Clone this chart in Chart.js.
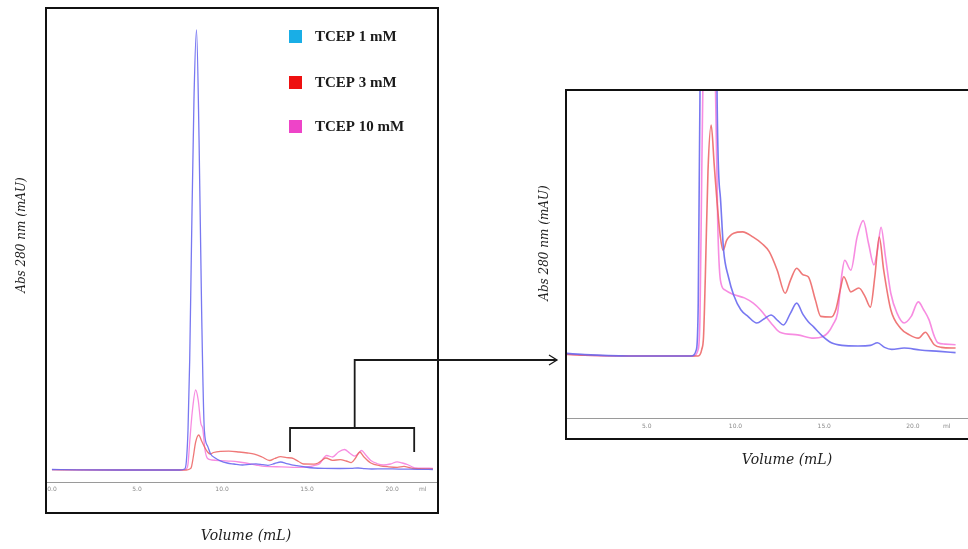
<!DOCTYPE html>
<html>
<head>
<meta charset="utf-8">
<script src="https://cdn.jsdelivr.net/npm/chart.js@4.4.1/dist/chart.umd.min.js"></script>
<style>
  html, body { margin: 0; padding: 0; background: #fff; }
  body { width: 968px; height: 549px; position: relative; overflow: hidden; }
  .panel { position: absolute; top: 0; }
  #overview { left: 0; }
  #zoomed { left: 530px; }
</style>
</head>
<body>
<div class="panel" id="overview"><canvas id="overviewChart" width="560" height="549"></canvas></div>
<div class="panel" id="zoomed"><canvas id="zoomChart" width="438" height="549"></canvas></div>
<script>
// ----- Data (volume in mL, absorbance in arbitrary mAU) -----
const seriesLabels = ['TCEP 1 mM', 'TCEP 3 mM', 'TCEP 10 mM'];

const vol1mM = [0, 1.5, 4, 7.5, 7.8, 7.9, 8.0, 8.1, 8.2, 8.35, 8.5, 8.65, 8.8, 8.96, 9.15, 9.33, 9.6, 9.9, 10.3, 10.7,
  11.2, 11.6, 12.0, 12.4, 12.7, 13.1, 13.45, 13.8, 14.1, 14.4, 14.9, 15.4, 16.0, 16.9, 17.6, 18.0, 18.4, 18.8, 19.5, 20.4, 21.5, 22.4];
const abs1mM = [0.5, 0.2, 0, 0, 1, 8, 40, 110, 220, 370, 440, 330, 160, 40, 24, 16, 12, 9.2, 7, 6,
  5, 5.6, 6.2, 5.3, 4.7, 6.5, 8, 6.3, 5.2, 4.4, 3, 2, 1.6, 1.5, 1.6, 2, 1.3, 1, 1.2, 0.9, 0.7, 0.5];

const vol3mM = [0, 1.5, 4, 7.9, 8.1, 8.2, 8.3, 8.45, 8.63, 8.8, 8.97, 9.15, 9.3, 9.5, 9.9, 10.4, 11.0, 11.5, 11.9, 12.35,
  12.8, 13.1, 13.45, 13.8, 14.1, 14.5, 14.8, 15.4, 15.65, 15.9, 16.1, 16.5, 16.95, 17.3, 17.6, 17.85, 18.1, 18.35, 18.75, 19.3,
  19.8, 20.3, 20.7, 21.0, 21.2, 21.6, 22.4];
const abs3mM = [0.3, 0.1, 0, 0, 1, 3, 12, 28, 35, 29, 23, 18, 16, 17.5, 18.6, 18.8, 18, 17, 15.8, 13,
  9.5, 11.5, 13.3, 12.3, 12, 8.5, 6, 5.9, 7, 10, 12, 9.7, 10.3, 9, 7.4, 12, 18, 13, 7, 4.2,
  3.2, 2.7, 3.6, 2.5, 1.7, 1.3, 1.2];

const vol10mM = [0, 1.5, 4, 7.6, 7.9, 8.0, 8.1, 8.25, 8.45, 8.6, 8.75, 8.87, 9.0, 9.15, 9.4, 9.9, 10.5, 11.0, 11.4, 12.0,
  12.5, 13.5, 14.4, 14.9, 15.2, 15.5, 15.75, 16.0, 16.15, 16.5, 16.85, 17.2, 17.5, 17.8, 18.0, 18.2, 18.45, 18.75, 19.1, 19.5,
  19.9, 20.3, 20.6, 20.9, 21.2, 21.4, 21.8, 22.4];
const abs10mM = [0.4, 0.1, 0, 0, 1, 6, 28, 58, 80, 70, 47, 41, 20, 11.5, 10, 9.3, 8.8, 8, 7, 5,
  3.6, 3.2, 2.7, 2.9, 3.5, 4.8, 6.5, 12.5, 14.5, 13, 18, 20.5, 17, 13.8, 16, 19.5, 15, 9.5, 6.5, 5,
  6, 8.2, 7, 5.5, 3, 2, 1.8, 1.7];

// x-axis tick labels as printed by the instrument software
const overviewTicks = [0, 5, 10, 15, 20, 21.8];
const overviewTickLabels = ['0.0', '5.0', '10.0', '15.0', '20.0', 'ml'];
const zoomTicks = [5, 10, 15, 20, 21.9];
const zoomTickLabels = ['5.0', '10.0', '15.0', '20.0', 'ml'];

// volume window that is blown up in the right panel
const zoomWindow = [14.0, 21.3];

// ----- Styles -----
const lineColors   = ['rgba(105,105,240,0.9)', 'rgba(236,96,96,0.85)', 'rgba(246,128,222,0.9)'];
const legendColors = ['#19aee6', '#ee1010', '#ee44c8'];
const titleFont = "'DejaVu Serif', serif";

const toPoints = (vols, abs) => vols.map((v, i) => ({ x: v, y: abs[i] }));

function makeDatasets(width) {
  const sets = [[vol1mM, abs1mM], [vol3mM, abs3mM], [vol10mM, abs10mM]];
  return sets.map(([v, a], i) => ({
    label: seriesLabels[i],
    data: toPoints(v, a),
    borderColor: lineColors[i],
    borderWidth: width,
    pointRadius: 0,
    fill: false,
    cubicInterpolationMode: 'monotone',
  }));
}

function xScale(min, max, ticks, labels, pad, height) {
  return {
    type: 'linear',
    min, max,
    grid: { display: false, drawTicks: false },
    border: { display: true, color: '#9a9a9a', width: 1 },
    afterBuildTicks: scale => { scale.ticks = ticks.map(v => ({ value: v })); },
    afterFit: scale => { scale.height = height; },
    ticks: {
      autoSkip: false, maxRotation: 0, padding: pad,
      color: '#8a8a8a',
      font: { family: 'DejaVu Sans', size: 6 },
      callback: (val, i) => labels[i],
    },
  };
}

function drawRotated(ctx, text, x, y, font) {
  ctx.save();
  ctx.translate(x, y);
  ctx.rotate(-Math.PI / 2);
  ctx.font = font;
  ctx.textAlign = 'center';
  ctx.textBaseline = 'middle';
  ctx.fillText(text, 0, 0);
  ctx.restore();
}

// ----- Left panel decorations: frame, titles, legend, bracket + arrow -----
const overviewDecor = {
  id: 'overviewDecor',
  afterDraw(chart) {
    const { ctx, chartArea: a, scales: { x, y } } = chart;
    ctx.save();
    ctx.strokeStyle = '#111';
    ctx.lineWidth = 2;
    ctx.strokeRect(a.left, a.top, a.right - a.left, x.bottom - a.top);

    ctx.fillStyle = '#222';
    drawRotated(ctx, 'Abs 280 nm (mAU)', a.left - 24, a.top + 227, `italic 12px ${titleFont}`);
    ctx.font = `italic 14px ${titleFont}`;
    ctx.textAlign = 'center';
    ctx.textBaseline = 'middle';
    ctx.fillText('Volume (mL)', (a.left + a.right) / 2 + 4, x.bottom + 23);

    // legend
    ctx.font = "bold 15px 'Liberation Serif', serif";
    ctx.textAlign = 'left';
    const rows = [36, 82, 126];
    seriesLabels.forEach((lab, i) => {
      ctx.fillStyle = legendColors[i];
      ctx.fillRect(a.left + 243, rows[i] - 6, 13, 13);
      ctx.fillStyle = '#1a1a1a';
      ctx.fillText(lab, a.left + 269, rows[i] + 1);
    });

    // bracket over the zoomed window and connector arrow
    const base = y.getPixelForValue(0);
    const x0 = x.getPixelForValue(zoomWindow[0]);
    const x1 = x.getPixelForValue(zoomWindow[1]);
    const xm = x.getPixelForValue(17.8);
    const yb = base - 42, yt = base - 18, ya = base - 110;
    ctx.strokeStyle = '#1a1a1a';
    ctx.lineWidth = 1.8;
    ctx.beginPath();
    ctx.moveTo(x0, yt); ctx.lineTo(x0, yb); ctx.lineTo(x1, yb); ctx.lineTo(x1, yt);
    ctx.moveTo(xm, yb); ctx.lineTo(xm, ya); ctx.lineTo(chart.width - 3, ya);
    ctx.stroke();
    ctx.lineWidth = 1.3;
    ctx.beginPath();
    ctx.moveTo(chart.width - 11, ya - 5); ctx.lineTo(chart.width - 3, ya); ctx.lineTo(chart.width - 11, ya + 5);
    ctx.stroke();
    ctx.restore();
  }
};

// ----- Right panel decorations -----
const zoomDecor = {
  id: 'zoomDecor',
  afterDraw(chart) {
    const { ctx, chartArea: a, scales: { x } } = chart;
    ctx.save();
    ctx.strokeStyle = '#111';
    ctx.lineWidth = 2;
    ctx.strokeRect(a.left, a.top, a.right - a.left + 4, x.bottom - a.top);
    ctx.fillStyle = '#222';
    drawRotated(ctx, 'Abs 280 nm (mAU)', a.left - 21, a.top + 153, `italic 12px ${titleFont}`);
    ctx.font = `italic 14px ${titleFont}`;
    ctx.textAlign = 'center';
    ctx.textBaseline = 'middle';
    ctx.fillText('Volume (mL)', a.left + 221, x.bottom + 21);
    ctx.restore();
  }
};

new Chart(document.getElementById('overviewChart'), {
  type: 'line',
  data: { datasets: makeDatasets(1.3) },
  options: {
    responsive: false,
    animation: false,
    layout: { padding: { left: 46, right: 122, top: 8, bottom: 36 } },
    plugins: { legend: { display: false }, tooltip: { enabled: false } },
    scales: {
      x: xScale(-0.35, 22.7, overviewTicks, overviewTickLabels, 4, 31),
      y: { display: false, min: -12, max: 462 },
    },
  },
  plugins: [overviewDecor],
});

new Chart(document.getElementById('zoomChart'), {
  type: 'line',
  data: { datasets: makeDatasets(1.6) },
  options: {
    responsive: false,
    animation: false,
    layout: { padding: { left: 36, right: 0, top: 90, bottom: 110 } },
    plugins: { legend: { display: false }, tooltip: { enabled: false } },
    scales: {
      x: xScale(0.45, 23.1, zoomTicks, zoomTickLabels, 5, 21),
      y: { display: false, min: -9.4, max: 40.3 },
    },
  },
  plugins: [zoomDecor],
});
</script>
</body>
</html>
